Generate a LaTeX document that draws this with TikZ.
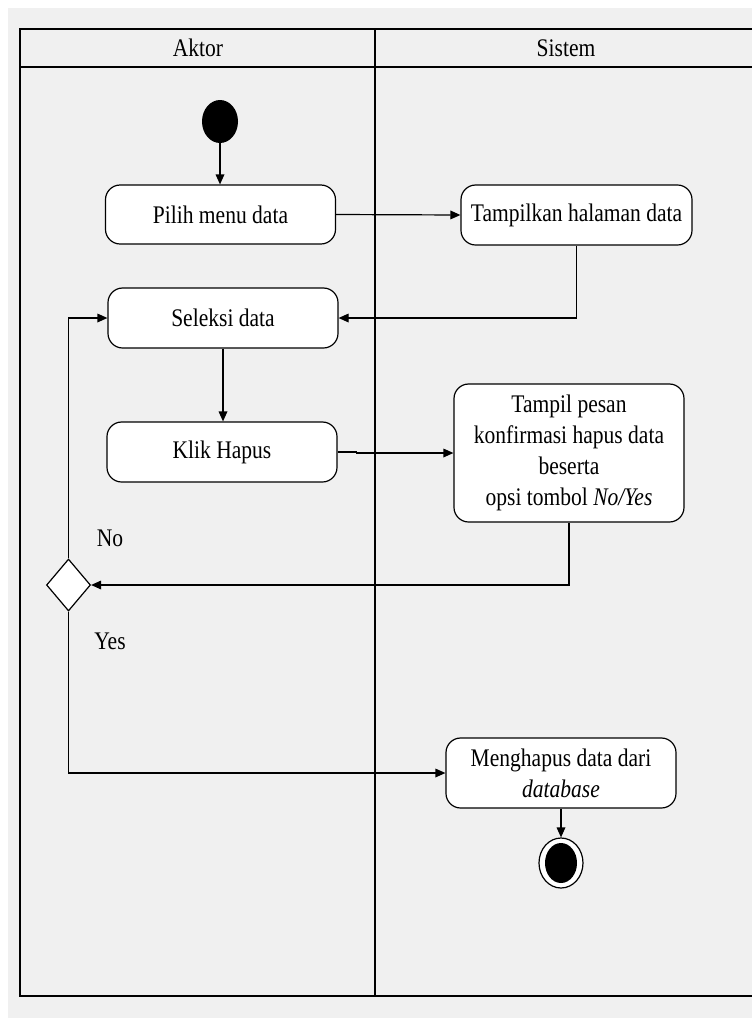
\documentclass[tikz,border=0pt]{standalone}
\usepackage{fontspec}
\setmainfont{Liberation Serif}[FakeStretch=0.85]
\usetikzlibrary{arrows.meta,shapes.geometric}
\definecolor{bgcol}{RGB}{240,240,240}
\tikzset{
  act/.style={draw, fill=white, rounded corners=11pt, line width=0.9pt, align=center,
    minimum width=172.5pt, minimum height=45pt, inner sep=2pt,
    font=\fontsize{19}{23.25}\selectfont},
  lbl/.style={font=\fontsize{19}{23.25}\selectfont, inner sep=0pt},
  arr/.style={-{Triangle[length=7.5pt,width=6.5pt]}, line width=0.9pt},
  lane/.style={line width=1.2pt}
}
\begin{document}
\begin{tikzpicture}[x=0.75pt,y=-0.75pt]
\useasboundingbox (0,0) rectangle (752,1018);
\fill[bgcol] (8,8) rectangle (753,1019);
% swimlane frame
\draw[lane] (20,29) rectangle (760,996);
\draw[lane] (20,67) -- (760,67);
\draw[lane] (375,29) -- (375,996);
\node[lbl] (aktor) at (198,48) {Aktor};
\node[lbl] (sistem) at (566,48) {Sistem};
% nodes
\node[ellipse, fill=black, inner sep=0pt, minimum width=27pt, minimum height=32.25pt] (start) at (220,121.5) {};
\node[act, minimum height=44.25pt] (pilih) at (220.5,214.5) {Pilih menu data};
\node[act, minimum width=173.25pt] (tampilkan) at (576.5,215) {Tampilkan halaman data};
\node[act] (seleksi) at (223,318) {Seleksi data};
\node[act] (klik) at (222,452) {Klik Hapus};
\node[act, minimum height=103.5pt] (tampil) at (569,453) {Tampil pesan\\konfirmasi hapus data\\beserta\\opsi tombol \textit{No/Yes}};
\node[diamond, draw, fill=white, line width=0.9pt, inner sep=0pt, minimum width=33pt, minimum height=39pt] (dec) at (68.5,585) {};
\node[lbl] (no) at (110,538) {No};
\node[lbl] (yes) at (110,641) {Yes};
\node[act, minimum height=52.5pt] (hapus) at (561,773) {Menghapus data dari\\\textit{database}};
\node[ellipse, draw, fill=white, line width=0.9pt, inner sep=0pt, minimum width=33pt, minimum height=37.5pt] (end) at (561,863) {};
\node[ellipse, fill=black, inner sep=0pt, minimum width=24pt, minimum height=30pt] (endin) at (561,863) {};
% connectors
\draw[arr] (start.south) -- (start.south |- pilih.north);
\draw[arr] (pilih.east) -- (tampilkan.west);
\draw[arr] (tampilkan.south) |- (seleksi.east);
\draw[arr] (seleksi.south) -- (seleksi.south |- klik.north);
\draw[arr] (klik.east) -- ++(19,0) |- (tampil.west);
\draw[arr] (tampil.south) |- (dec.east);
\draw[arr] (dec.north) |- (seleksi.west);
\draw[arr] (dec.south) |- (hapus.west);
\draw[arr] (hapus.south) -- (end.north);
\end{tikzpicture}
\end{document}
